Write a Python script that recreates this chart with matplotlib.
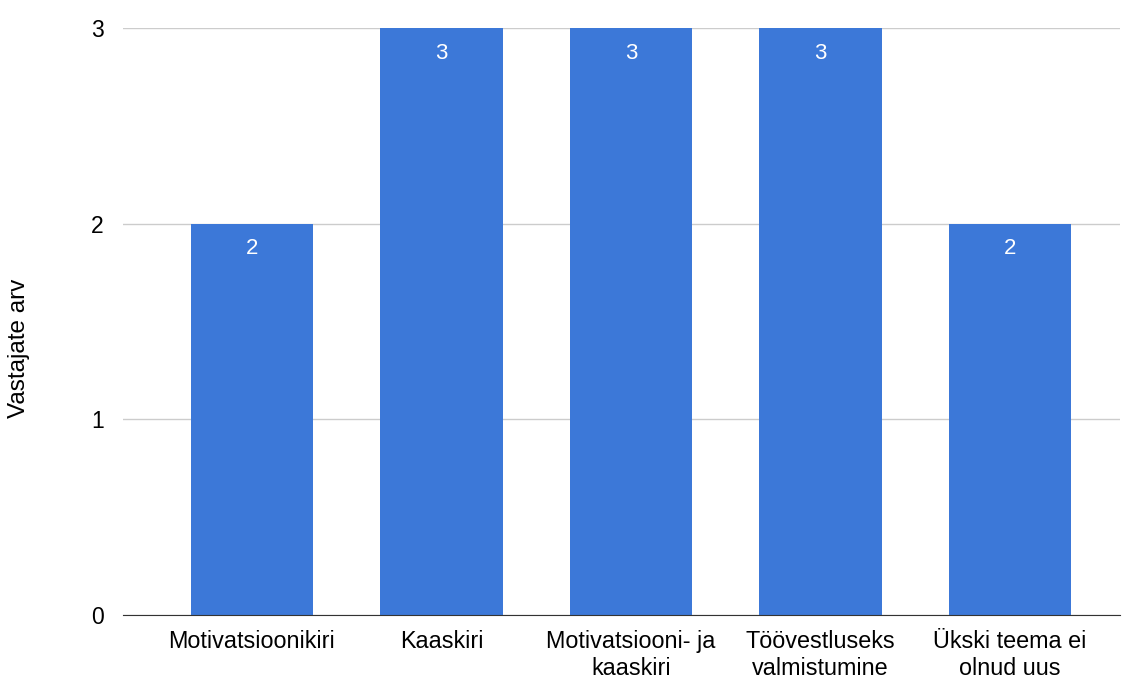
import matplotlib.pyplot as plt

plt.rcParams['font.family'] = ['Liberation Sans', 'DejaVu Sans']

categories = ["Motivatsioonikiri", "Kaaskiri", "Motivatsiooni- ja\nkaaskiri",
              "Töövestluseks\nvalmistumine", "Ükski teema ei\nolnud uus"]
values = [2, 3, 3, 3, 2]

fig = plt.figure(figsize=(11.28, 6.8), dpi=100)
ax = fig.add_axes([0.109, 0.0956, 0.884, 0.8632])

x = range(len(categories))
bars = ax.bar(x, values, width=0.645, color="#3c78d8", zorder=3)
for b, v in zip(bars, values):
    ax.annotate(str(v), (b.get_x() + b.get_width() / 2, v), xytext=(0, -25),
                textcoords="offset pixels", ha="center", va="center",
                color="white", fontsize=16, zorder=4)

ax.set_xlim(-0.68, 4.58)
ax.set_ylim(0, 3)
ax.set_yticks([0, 1, 2, 3])
ax.set_xticks(list(x))
ax.set_xticklabels(categories, fontsize=16.8, linespacing=1.2)
ax.tick_params(axis="y", labelsize=16.5, length=0, pad=14)
ax.tick_params(axis="x", length=0, pad=11)
ax.grid(axis="y", color="#cccccc", linewidth=1, zorder=0)
for s in ["top", "right", "left"]:
    ax.spines[s].set_visible(False)
ax.spines["bottom"].set_color("#333333")
ax.spines["bottom"].set_zorder(5)
ax.set_ylabel("Vastajate arv", fontsize=17.5, va="center")
ax.yaxis.set_label_coords(-0.104, 0.455)

fig.savefig("out.png", dpi=100)
